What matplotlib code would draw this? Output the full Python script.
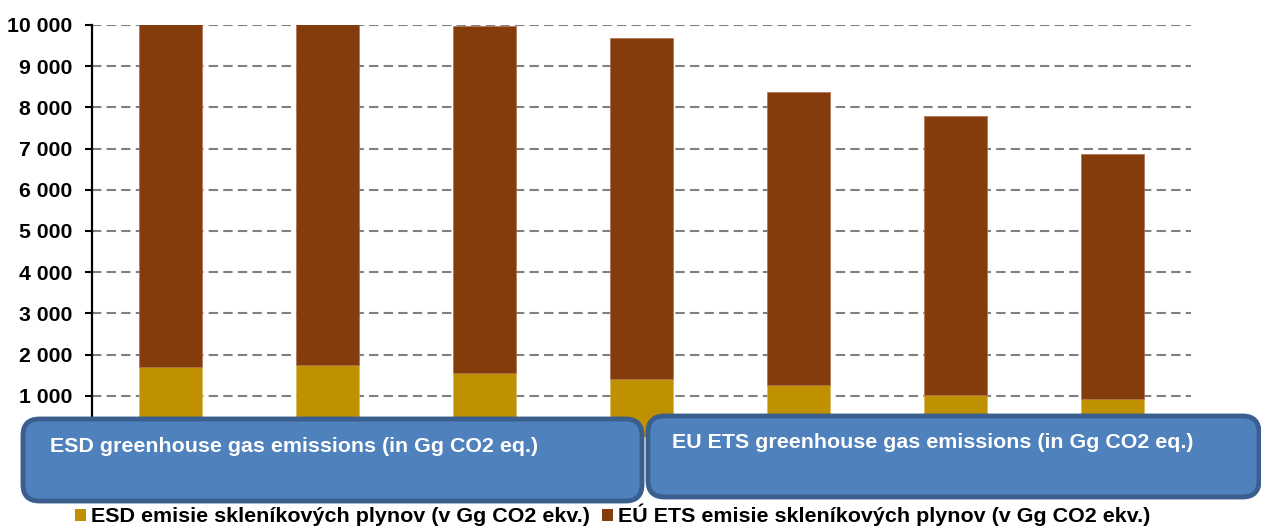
import matplotlib
matplotlib.use("Agg")
import matplotlib.pyplot as plt
from matplotlib.patches import FancyBboxPatch
from matplotlib.ticker import FuncFormatter, MultipleLocator

plt.rcParams['font.family'] = ['Liberation Sans', 'DejaVu Sans']

years = ["1", "2", "3", "4", "5", "6", "7"]
esd = [1697, 1746, 1551, 1406, 1260, 1017, 920]
total = [10200, 10200, 9975, 9677, 8374, 7791, 6869]
ets = [t - e for t, e in zip(total, esd)]

esd_label = "ESD emisie skleníkových plynov (v Gg CO2 ekv.)"
ets_label = "EÚ ETS emisie skleníkových plynov (v Gg CO2 ekv.)"
box_left_text = "ESD greenhouse gas emissions (in Gg CO2 eq.)"
box_right_text = "EU ETS greenhouse gas emissions (in Gg CO2 eq.)"

c_esd = "#BF9000"
c_ets = "#843C0C"

W, H = 1261, 526
fig = plt.figure(figsize=(W / 100, H / 100), dpi=100)
ax = fig.add_axes([92 / W, 1 - 436.9 / H, (1191 - 92) / W, (436.9 - 25) / H])

x = list(range(len(years)))
b1 = ax.bar(x, esd, width=0.4, color=c_esd, edgecolor="#D9B860", linewidth=0.5, zorder=3, label=esd_label)
b2 = ax.bar(x, ets, bottom=esd, width=0.4, color=c_ets, edgecolor="#B07050", linewidth=0.5, zorder=3, label=ets_label)

ax.set_xlim(-0.5, len(years) - 0.5)
ax.set_ylim(0, 10000)
ax.yaxis.set_major_locator(MultipleLocator(1000))
ax.yaxis.set_major_formatter(FuncFormatter(lambda v, p: f"{int(v):,}".replace(",", " ") if v > 0 else ""))
ax.grid(axis="y", color="#808080", linestyle=(0, (4.5, 2.5)), linewidth=1.5, zorder=1)
ax.set_xticks([])
for s in ["top", "right", "bottom"]:
    ax.spines[s].set_visible(False)
ax.spines["left"].set_linewidth(1.6)
ax.tick_params(axis="y", length=5, width=1.5, pad=9, labelsize=15.3)
for lab in ax.get_yticklabels():
    lab.set_fontweight("bold")

def fig_box(x0, y0, x1, y1, text, tx, ty):
    p = FancyBboxPatch((x0 / W, 1 - y1 / H), (x1 - x0) / W, (y1 - y0) / H,
                       boxstyle="round,pad=0,rounding_size=0.013",
                       transform=fig.transFigure, facecolor="#4F81BD",
                       edgecolor="#3A5F8E", linewidth=3.5, zorder=10,
                       mutation_aspect=W / H)
    fig.add_artist(p)
    fig.text(tx / W, 1 - ty / H, text, color="white", fontsize=15.4, fontweight="bold",
             va="center", ha="left", zorder=11)

fig_box(23, 419, 642, 501, box_left_text, 50, 447)
fig_box(648, 416, 1259, 497, box_right_text, 672, 442)

leg = fig.legend(handles=[b1, b2], labels=[esd_label, ets_label], loc="center",
                 bbox_to_anchor=(613 / W, 1 - 515 / H), ncol=2, frameon=False,
                 handlelength=0.5, handleheight=0.5, handletextpad=0.25, columnspacing=0.55,
                 borderpad=0, prop={'weight': 'bold', 'size': 15.45})
for h in leg.legend_handles:
    h.set_edgecolor("none")

fig.savefig("out.png", dpi=100)
